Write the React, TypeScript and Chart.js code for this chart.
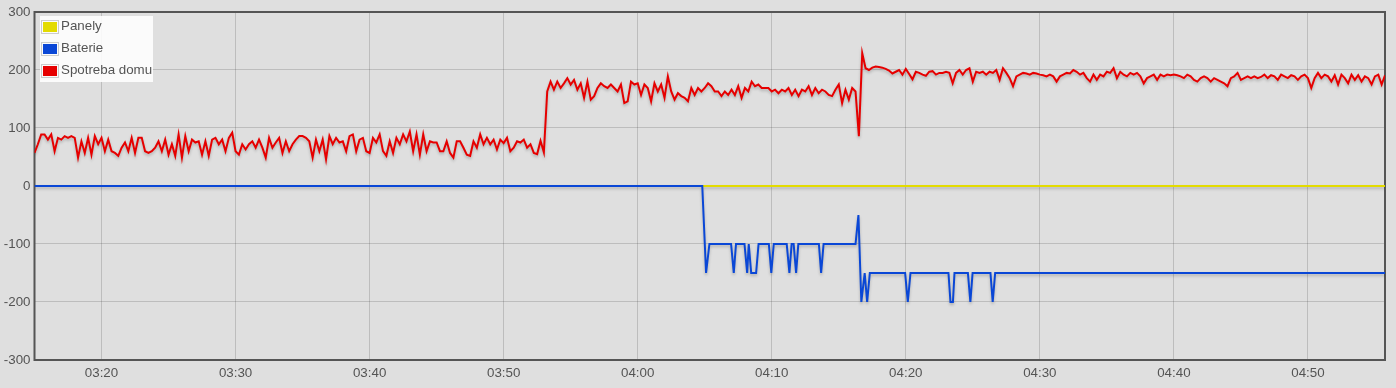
import { useEffect, useRef } from 'react';
import { Chart, registerables } from 'chart.js';

Chart.register(...registerables);

const SERIES_NAMES = ['Panely', 'Baterie', 'Spotreba domu'];
const SERIES_COLORS = ['#e3db00', '#0a47d6', '#e60000'];

const X_MIN = '03:15:00';
const X_MAX = '04:55:45';
const X_TICKS = ['03:20', '03:30', '03:40', '03:50', '04:00', '04:10', '04:20', '04:30', '04:40', '04:50'];
const Y_TICKS = [-300, -200, -100, 0, 100, 200, 300];

// Spotreba domu: one sample every 15 s from 03:15:00
const RED_START = '03:15:00';
const RED_STEP_SECONDS = 15;
const RED_VALUES = [
  57, 72, 89, 89, 80, 89, 60, 83, 80, 86,
  83, 86, 83, 49, 77, 57, 83, 54, 86, 72,
  83, 60, 80, 60, 57, 52, 66, 75, 60, 83,
  57, 83, 83, 60, 57, 60, 66, 77, 60, 80,
  54, 72, 52, 89, 49, 86, 60, 80, 75, 77,
  54, 77, 52, 80, 83, 72, 80, 60, 83, 92,
  60, 54, 72, 63, 72, 77, 66, 80, 66, 49,
  83, 66, 75, 83, 57, 77, 60, 72, 80, 86,
  86, 83, 77, 49, 80, 60, 80, 46, 86, 72,
  83, 75, 77, 60, 86, 89, 60, 80, 83, 60,
  57, 83, 75, 89, 60, 52, 77, 57, 83, 72,
  89, 77, 94, 60, 89, 54, 89, 60, 77, 75,
  75, 60, 60, 77, 57, 49, 77, 77, 66, 54,
  52, 77, 66, 89, 72, 83, 72, 80,
  63, 80, 74, 83, 60, 66, 77, 75, 80, 66, 72, 57, 55, 78, 58,
  // 03:53:15 ->
  163, 180, 166, 180, 169, 177, 186, 175, 183, 166,
  177, 152, 180, 149, 155, 169, 177, 172, 169, 175,
  169, 163, 175, 143, 146, 180, 175, 177, 157, 175,
  169, 146, 177, 163, 175, 152, 189, 163, 149, 160,
  155, 152, 146, 169, 157, 169, 163, 169, 177, 172,
  163, 163, 155, 163, 157, 166, 157, 172, 152, 169,
  163, 180, 172, 175, 169, 169, 169, 163, 166, 160,
  166, 163, 169, 157, 166, 155, 166, 163, 172, 157,
  169, 160, 166, 163, 157, 155, 166, 175, 143, 166,
  149, 169, 163,
  // 04:16:30 ->
  86, 229,
  203, 200, 204, 206, 205, 204, 202, 199, 194, 197,
  200, 192, 202, 193, 184, 197, 195, 192, 190, 197,
  198, 192,
  195, 195, 197, 195, 177, 195, 200, 192, 200, 203,
  180, 197, 195, 197, 192, 197, 195, 200, 183, 203,
  195, 186, 172, 189, 192, 195, 194, 192, 195, 194,
  192, 191, 189, 192, 189, 180, 189, 192, 195, 194,
  200, 197, 192, 195, 186, 180, 192, 183, 192, 189,
  197, 195, 203, 186, 197, 192, 189, 195, 192, 195,
  189, 177, 186, 189, 192, 183, 192, 189, 192, 191,
  192, 191, 189, 186, 192, 189, 183, 180, 186, 189,
  186, 180, 186, 183, 180, 177, 172, 186, 189, 195,
  183, 186, 189, 186, 189, 186, 188, 192, 186, 191,
  189, 183, 192, 189, 186, 191, 189, 183, 189, 192,
  186, 169, 186, 195, 186, 192, 189, 180, 191, 175,
  192, 186, 177, 192, 183, 191, 180, 189, 186, 175,
  189, 192, 175, 191,
];

// Baterie: vertices of the line
const BLUE_TIMES = [
  '03:15:00', '04:04:49', '04:05:06', '04:05:21', '04:06:58', '04:07:10', '04:07:20',
  '04:07:58', '04:08:10', '04:08:17', '04:08:28', '04:08:50', '04:09:01', '04:09:47',
  '04:09:58', '04:10:09', '04:11:07', '04:11:19', '04:11:29', '04:11:38', '04:11:49',
  '04:11:59', '04:13:31', '04:13:41', '04:13:52', '04:16:15', '04:16:28', '04:16:41',
  '04:16:56', '04:17:07', '04:17:19', '04:19:57', '04:20:09', '04:20:21', '04:23:11',
  '04:23:20', '04:23:31', '04:23:38', '04:24:38', '04:24:49', '04:24:59', '04:26:19',
  '04:26:29', '04:26:40', '04:55:45',
];
const BLUE_VALUES = [
  0, 0, -150, -100, -100, -150, -100,
  -100, -150, -100, -150, -150, -100, -100,
  -150, -100, -100, -150, -100, -100, -150,
  -100, -100, -150, -100, -100, -50, -200,
  -150, -200, -150, -150, -200, -150, -150,
  -200, -200, -150, -150, -200, -150, -150,
  -200, -150, -150,
];

// Panely
const YELLOW_TIMES = ['04:04:49', '04:55:45'];
const YELLOW_VALUES = [0, 0];

const TEXT_COLOR = '#545454';
const BG_COLOR = '#dfdfdf';
const FONT_FAMILY = "'Liberation Sans', Arial, sans-serif";

function toMin(s: string): number {
  const p = s.split(':').map(Number);
  return p[0] * 60 + p[1] + (p[2] || 0) / 60;
}

function fmt(v: number): string {
  const t = Math.round(v);
  const h = Math.floor(t / 60);
  const m = t % 60;
  return `${String(h).padStart(2, '0')}:${String(m).padStart(2, '0')}`;
}

const shadowPlugin = {
  id: 'lineShadow',
  beforeDatasetDraw(chart: any) {
    const c = chart.ctx;
    c.save();
    c.shadowColor = 'rgba(0,0,0,0.22)';
    c.shadowBlur = 3;
    c.shadowOffsetX = 0;
    c.shadowOffsetY = 2;
  },
  afterDatasetDraw(chart: any) {
    chart.ctx.restore();
  },
};

const borderPlugin = {
  id: 'plotBorder',
  beforeDatasetsDraw(chart: any) {
    const { ctx, chartArea } = chart;
    ctx.save();
    ctx.strokeStyle = '#555555';
    ctx.lineWidth = 2;
    ctx.strokeRect(chartArea.left, chartArea.top, chartArea.right - chartArea.left, chartArea.bottom - chartArea.top);
    ctx.restore();
  },
};

export default function App() {
  const canvasRef = useRef<HTMLCanvasElement | null>(null);

  useEffect(() => {
    if (!canvasRef.current) return;
    const redStart = toMin(RED_START);
    const redData = RED_VALUES.map((v, i) => ({ x: redStart + (i * RED_STEP_SECONDS) / 60, y: v }));
    const blueData = BLUE_VALUES.map((v, i) => ({ x: toMin(BLUE_TIMES[i]), y: v }));
    const yellowData = YELLOW_VALUES.map((v, i) => ({ x: toMin(YELLOW_TIMES[i]), y: v }));
    const xTickVals = X_TICKS.map(toMin);

    const common = { borderWidth: 2, pointRadius: 0, pointHoverRadius: 0, tension: 0, fill: false };

    const chart = new Chart(canvasRef.current, {
      type: 'line',
      data: {
        datasets: [
          { ...common, label: SERIES_NAMES[0], data: yellowData, borderColor: SERIES_COLORS[0], backgroundColor: SERIES_COLORS[0], order: 2 },
          { ...common, label: SERIES_NAMES[1], data: blueData, borderColor: SERIES_COLORS[1], backgroundColor: SERIES_COLORS[1], order: 1 },
          { ...common, label: SERIES_NAMES[2], data: redData, borderColor: SERIES_COLORS[2], backgroundColor: SERIES_COLORS[2], order: 0 },
        ],
      },
      options: {
        animation: false,
        responsive: true,
        maintainAspectRatio: false,
        layout: { padding: { top: 10, right: 11, left: 0, bottom: 0 } },
        plugins: { legend: { display: false }, tooltip: { enabled: false } },
        scales: {
          x: {
            type: 'linear',
            min: toMin(X_MIN),
            max: toMin(X_MAX),
            afterBuildTicks: (scale: any) => {
              scale.ticks = xTickVals.map((v) => ({ value: v }));
            },
            afterFit: (scale: any) => {
              scale.height = 28;
            },
            grid: { color: 'rgba(0,0,0,0.15)', lineWidth: 1, drawTicks: false },
            border: { display: false },
            ticks: {
              padding: 5,
              color: TEXT_COLOR,
              font: { family: FONT_FAMILY, size: 13.33 },
              maxRotation: 0,
              autoSkip: false,
              callback: (v: any) => fmt(Number(v)),
            },
          },
          y: {
            type: 'linear',
            min: Y_TICKS[0],
            max: Y_TICKS[Y_TICKS.length - 1],
            afterBuildTicks: (scale: any) => {
              scale.ticks = Y_TICKS.map((v) => ({ value: v }));
            },
            afterFit: (scale: any) => {
              scale.width = 34.5;
            },
            grid: { color: 'rgba(0,0,0,0.15)', lineWidth: 1, drawTicks: false },
            border: { display: false },
            ticks: {
              padding: 4,
              color: TEXT_COLOR,
              font: { family: FONT_FAMILY, size: 13.33 },
              autoSkip: false,
              callback: (v: any) => String(v),
            },
          },
        },
      },
      plugins: [borderPlugin, shadowPlugin],
    } as any);

    return () => chart.destroy();
  }, []);

  return (
    <div style={{ position: 'fixed', left: 0, top: 0, width: 1396, height: 388, background: BG_COLOR }}>
      <canvas ref={canvasRef} />
      <div
        style={{
          position: 'absolute',
          left: 40,
          top: 16,
          width: 113,
          height: 66,
          background: 'rgba(255,255,255,0.88)',
          fontFamily: FONT_FAMILY,
          fontSize: 13.33,
          color: TEXT_COLOR,
        }}
      >
        {SERIES_NAMES.map((name, i) => (
          <div key={name} style={{ position: 'absolute', left: 0, top: i * 22, height: 22, width: 113 }}>
            <div
              style={{
                position: 'absolute',
                left: 1,
                top: 4,
                border: '1px solid #cccccc',
                padding: 1,
                width: 14,
                height: 10,
              }}
            >
              <div style={{ width: 14, height: 10, background: SERIES_COLORS[i] }} />
            </div>
            <div style={{ position: 'absolute', left: 21, top: 2, lineHeight: '16px', whiteSpace: 'nowrap' }}>{name}</div>
          </div>
        ))}
      </div>
    </div>
  );
}
